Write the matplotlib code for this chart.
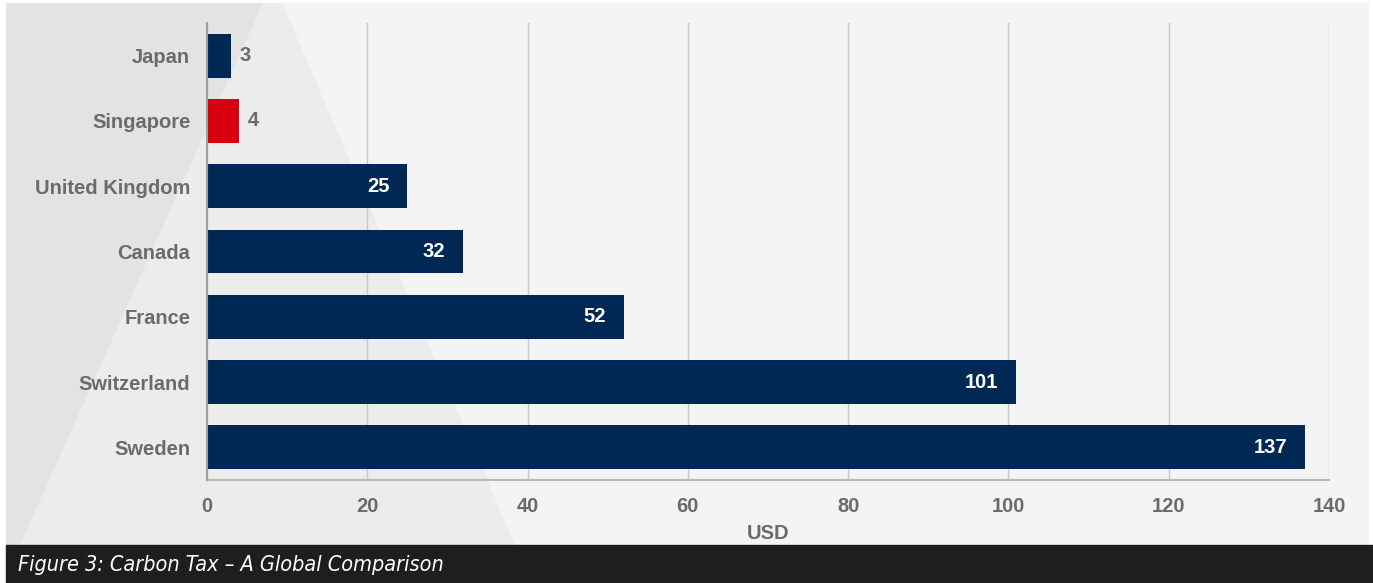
"""Carbon tax comparison: horizontal bars on a faceted grey background."""

import matplotlib.pyplot as plt
from matplotlib.patches import Polygon, Rectangle

countries = ["Japan", "Singapore", "United Kingdom", "Canada", "France",
             "Switzerland", "Sweden"]
tax_usd = [3, 4, 25, 32, 52, 101, 137]
highlight = "Singapore"
xticks = [0, 20, 40, 60, 80, 100, 120, 140]

NAVY = "#002855"
RED = "#d7000f"
GREY_TXT = "#6b6b6b"

W, H = 1373, 583
fig = plt.figure(figsize=(W / 100, H / 100), dpi=100, facecolor="white")


def px(pts):
    return [(x / W, 1 - y / H) for x, y in pts]


# background panel and diagonal facets (the mid tone runs under the dark one)
fig.add_artist(Rectangle((6 / W, 0), (1368 - 6) / W, 1 - 3 / H,
                         transform=fig.transFigure, color="#f4f4f4", zorder=-3))
fig.add_artist(Polygon(px([(6, 3), (282, 3), (515, 545), (6, 545)]),
                       transform=fig.transFigure, color="#ececec", lw=0,
                       zorder=-2.5))
fig.add_artist(Polygon(px([(6, 3), (263, 3), (20, 545), (6, 545)]),
                       transform=fig.transFigure, color="#e3e3e3", lw=0,
                       zorder=-2))
# caption bar
fig.add_artist(Rectangle((6 / W, 0), 1, 38 / H, transform=fig.transFigure,
                         color="#1e1e1e", zorder=-1))
fig.text(18 / W, 18 / H, "Figure 3: Carbon Tax \u2013 A Global Comparison",
         family=["DejaVu Sans"], stretch="condensed", style="italic",
         fontsize=15.5, color="white", va="center", ha="left")

ax = fig.add_axes([207 / W, 1 - 480 / H, (1329 - 207) / W, (480 - 23) / H])
ax.set_facecolor("none")

colors = [RED if c == highlight else NAVY for c in countries]
ypos = range(len(countries))
ax.barh(ypos, tax_usd, height=0.67, color=colors, zorder=3)
ax.set_ylim(len(countries) - 0.5, -0.5)
ax.set_xlim(0, 140)
ax.set_xticks(xticks)
ax.set_yticks(list(ypos))
ax.set_yticklabels(countries)

FS = 14.5
font = dict(family="Liberation Sans", fontweight="bold")
for lab in ax.get_xticklabels() + ax.get_yticklabels():
    lab.set_fontfamily("Liberation Sans")
    lab.set_fontweight("bold")
    lab.set_fontsize(FS)
    lab.set_color(GREY_TXT)
ax.tick_params(axis="x", length=0, pad=12)
ax.tick_params(axis="y", length=0, pad=12)

ax.grid(axis="x", color="#c8c8c8", lw=1, zorder=0)
for s in ["top", "right"]:
    ax.spines[s].set_visible(False)
ax.spines["left"].set_color("#a0a0a0")
ax.spines["left"].set_linewidth(1.5)
ax.spines["bottom"].set_color("#b8b8b8")
ax.spines["bottom"].set_linewidth(1.5)
ax.spines["left"].set_zorder(4)

for y, v in zip(ypos, tax_usd):
    if v < 10:
        ax.annotate(str(v), (v, y), xytext=(6, 0), textcoords="offset points",
                    ha="left", va="center", color=GREY_TXT, fontsize=FS, **font)
    else:
        ax.annotate(str(v), (v, y), xytext=(-13, 0), textcoords="offset points",
                    ha="right", va="center", color="white", fontsize=FS, **font)

ax.set_xlabel("USD", color=GREY_TXT, fontsize=FS, labelpad=6, **font)

fig.savefig("out.png", dpi=100)
